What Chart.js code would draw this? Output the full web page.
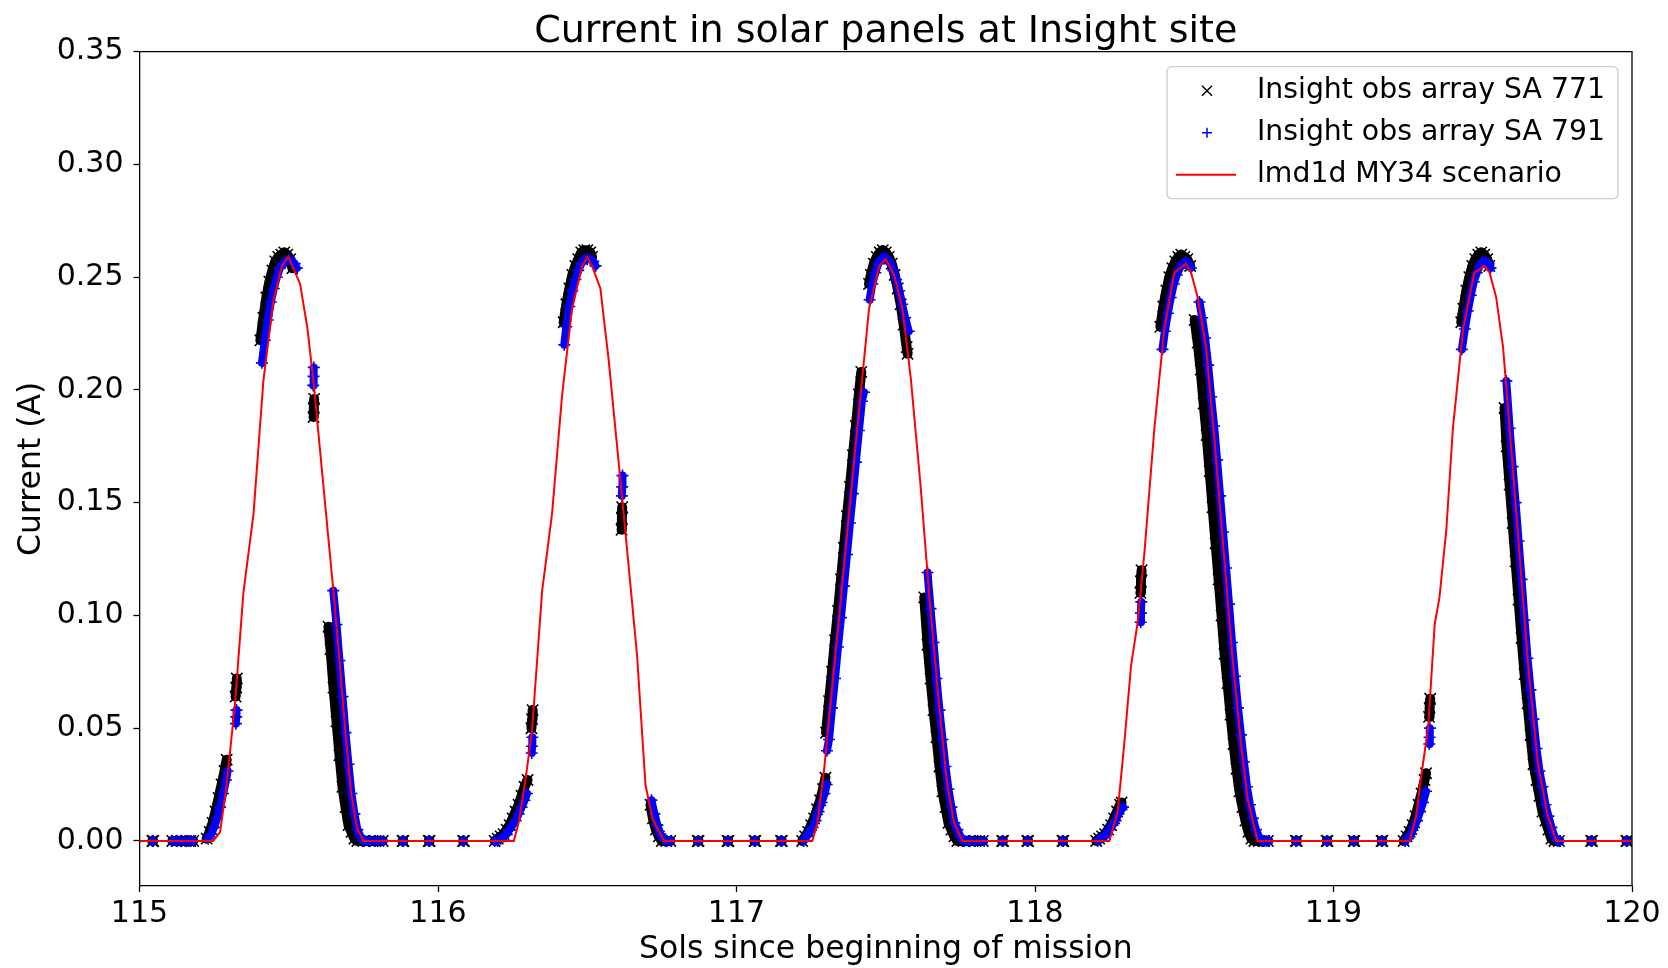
<!DOCTYPE html>
<html>
<head>
<meta charset="utf-8">
<title>Current in solar panels at Insight site</title>
<script src="https://cdn.jsdelivr.net/npm/chart.js@4.4.1/dist/chart.umd.min.js"></script>
<style>
  html, body { margin: 0; padding: 0; background: #fff; }
  #wrap { width: 1668px; height: 968px; }
</style>
</head>
<body>
<div id="wrap"><canvas id="chart" width="1668" height="968"></canvas></div>
<script>
// axis ticks
const solTicks = [115, 116, 117, 118, 119, 120];
const currentTicks = [0.00, 0.05, 0.10, 0.15, 0.20, 0.25, 0.30, 0.35];

// lmd1d MY34 model, [sol, current A]
const modelSol115 = [[115.000, 0], [115.247, 0], [115.270, 0.004], [115.292, 0.025], [115.320, 0.061], [115.348, 0.110], [115.382, 0.145], [115.415, 0.204], [115.449, 0.240], [115.477, 0.255], [115.499, 0.259], [115.538, 0.247], [115.563, 0.227], [115.585, 0.201], [115.605, 0.173], [115.625, 0.145], [115.648, 0.113], [115.667, 0.085], [115.686, 0.054], [115.708, 0.022], [115.728, 0.006], [115.750, 0]];
const modelSol116 = [[116.254, 0], [116.270, 0.008], [116.293, 0.027], [116.315, 0.049], [116.349, 0.111], [116.382, 0.145], [116.416, 0.198], [116.449, 0.236], [116.483, 0.255], [116.500, 0.259], [116.516, 0.255], [116.544, 0.245], [116.572, 0.213], [116.600, 0.175], [116.622, 0.145], [116.645, 0.113], [116.667, 0.082], [116.695, 0.025], [116.718, 0.010], [116.757, 0]];
const modelSol117 = [[117.254, 0], [117.271, 0.008], [117.293, 0.031], [117.316, 0.062], [117.343, 0.098], [117.377, 0.145], [117.410, 0.190], [117.444, 0.236], [117.478, 0.255], [117.500, 0.258], [117.528, 0.251], [117.556, 0.236], [117.584, 0.205], [117.617, 0.157], [117.645, 0.110], [117.678, 0.061], [117.706, 0.025], [117.729, 0.008], [117.757, 0]];
const modelSol118 = [[118.249, 0], [118.277, 0.013], [118.299, 0.043], [118.322, 0.078], [118.344, 0.097], [118.366, 0.127], [118.400, 0.183], [118.433, 0.227], [118.467, 0.252], [118.506, 0.256], [118.523, 0.252], [118.545, 0.241], [118.573, 0.219], [118.600, 0.180], [118.633, 0.127], [118.661, 0.082], [118.690, 0.043], [118.713, 0.018], [118.746, 0]];
const modelSol119 = [[119.255, 0], [119.277, 0.011], [119.294, 0.029], [119.317, 0.050], [119.339, 0.096], [119.355, 0.108], [119.378, 0.138], [119.400, 0.183], [119.434, 0.227], [119.472, 0.252], [119.506, 0.255], [119.523, 0.252], [119.545, 0.241], [119.568, 0.219], [119.590, 0.183], [119.618, 0.136], [119.652, 0.078], [119.685, 0.034], [119.718, 0.011], [119.746, 0], [120.000, 0]];

// Insight observations, array SA 771, one list per run of samples
const sa771Sol115 = [
  [[115.043, 0], [115.046, 0]],
  [[115.110, 0], [115.125, 0], [115.140, 0], [115.155, 0], [115.170, 0], [115.180, 0]],
  [[115.225, 0.001], [115.235, 0.004], [115.245, 0.008], [115.255, 0.013], [115.265, 0.019], [115.275, 0.025], [115.285, 0.031], [115.292, 0.036]],
  [[115.322, 0.064], [115.324, 0.068], [115.326, 0.072]],
  [[115.405, 0.222], [115.415, 0.232], [115.425, 0.241], [115.435, 0.248], [115.445, 0.253], [115.455, 0.257], [115.465, 0.259], [115.475, 0.260], [115.485, 0.261], [115.495, 0.260], [115.505, 0.258], [115.512, 0.254]],
  [[115.583, 0.188], [115.584, 0.192], [115.585, 0.196]],
  [[115.633, 0.095], [115.640, 0.085], [115.650, 0.068], [115.660, 0.053], [115.670, 0.038], [115.680, 0.024], [115.690, 0.015], [115.700, 0.007], [115.710, 0.004], [115.720, 0.001], [115.730, 0], [115.750, 0], [115.770, 0], [115.790, 0], [115.815, 0]],
  [[115.881, 0], [115.884, 0]], [[115.969, 0], [115.972, 0]], [[116.084, 0], [116.087, 0]]
];
const sa771Sol116 = [
  [[116.190, 0], [116.200, 0.001], [116.210, 0.002], [116.220, 0.003], [116.230, 0.005], [116.240, 0.007], [116.250, 0.010], [116.260, 0.013], [116.270, 0.016], [116.280, 0.020], [116.290, 0.024], [116.300, 0.027]],
  [[116.313, 0.050], [116.315, 0.054], [116.317, 0.058]],
  [[116.421, 0.230], [116.430, 0.238], [116.440, 0.245], [116.450, 0.251], [116.460, 0.255], [116.470, 0.258], [116.480, 0.261], [116.490, 0.262], [116.500, 0.262], [116.510, 0.261], [116.516, 0.259]],
  [[116.615, 0.138], [116.616, 0.143], [116.617, 0.148]],
  [[116.712, 0.016], [116.720, 0.010], [116.730, 0.005], [116.740, 0.002], [116.750, 0], [116.765, 0], [116.778, 0]],
  [[116.870, 0], [116.873, 0]], [[116.970, 0], [116.973, 0]], [[117.060, 0], [117.063, 0]], [[117.149, 0], [117.152, 0]]
];
const sa771Sol117 = [
  [[117.220, 0], [117.230, 0.002], [117.240, 0.004], [117.250, 0.007], [117.260, 0.010], [117.270, 0.014], [117.280, 0.018], [117.290, 0.023], [117.298, 0.028]],
  [[117.300, 0.048], [117.310, 0.062], [117.320, 0.075], [117.330, 0.089], [117.340, 0.102], [117.350, 0.116], [117.360, 0.130], [117.370, 0.144], [117.380, 0.157], [117.390, 0.171], [117.400, 0.184], [117.410, 0.198], [117.418, 0.208]],
  [[117.444, 0.247], [117.450, 0.251], [117.460, 0.256], [117.470, 0.259], [117.480, 0.261], [117.490, 0.262], [117.500, 0.261], [117.510, 0.259], [117.520, 0.256], [117.530, 0.251], [117.540, 0.245], [117.550, 0.238], [117.560, 0.229], [117.570, 0.219], [117.573, 0.216]],
  [[117.629, 0.108], [117.640, 0.087], [117.650, 0.072], [117.660, 0.058], [117.670, 0.046], [117.680, 0.033], [117.690, 0.022], [117.700, 0.015], [117.710, 0.008], [117.720, 0.005], [117.730, 0.002], [117.740, 0], [117.760, 0], [117.780, 0], [117.800, 0], [117.825, 0]],
  [[117.890, 0], [117.893, 0]], [[117.974, 0], [117.977, 0]], [[118.092, 0], [118.095, 0]]
];
const sa771Sol118 = [
  [[118.205, 0], [118.215, 0.001], [118.225, 0.002], [118.235, 0.003], [118.245, 0.005], [118.255, 0.007], [118.265, 0.010], [118.275, 0.013], [118.285, 0.016], [118.290, 0.017]],
  [[118.353, 0.110], [118.355, 0.115], [118.357, 0.120]],
  [[118.420, 0.228], [118.430, 0.237], [118.440, 0.244], [118.450, 0.250], [118.460, 0.254], [118.470, 0.257], [118.480, 0.259], [118.490, 0.260], [118.500, 0.259], [118.510, 0.258], [118.520, 0.255]],
  [[118.535, 0.231], [118.545, 0.221], [118.555, 0.209], [118.565, 0.194], [118.575, 0.180], [118.585, 0.164], [118.595, 0.148], [118.605, 0.132], [118.615, 0.116], [118.625, 0.100], [118.635, 0.083], [118.645, 0.070], [118.655, 0.056], [118.665, 0.043], [118.675, 0.032], [118.685, 0.022], [118.695, 0.015], [118.705, 0.009], [118.715, 0.004], [118.725, 0.001], [118.735, 0], [118.750, 0], [118.765, 0], [118.780, 0]],
  [[118.874, 0], [118.877, 0]], [[118.977, 0], [118.980, 0]], [[119.067, 0], [119.070, 0]], [[119.161, 0], [119.164, 0]]
];
const sa771Sol119 = [
  [[119.235, 0], [119.245, 0.002], [119.255, 0.004], [119.265, 0.007], [119.275, 0.011], [119.285, 0.016], [119.295, 0.021], [119.305, 0.027], [119.310, 0.030]],
  [[119.320, 0.055], [119.322, 0.059], [119.324, 0.063]],
  [[119.428, 0.230], [119.435, 0.236], [119.445, 0.244], [119.455, 0.250], [119.465, 0.255], [119.475, 0.258], [119.485, 0.260], [119.495, 0.261], [119.505, 0.260], [119.515, 0.258], [119.522, 0.255]],
  [[119.573, 0.192], [119.580, 0.175], [119.590, 0.158], [119.600, 0.141], [119.610, 0.124], [119.620, 0.107], [119.630, 0.090], [119.640, 0.074], [119.650, 0.061], [119.660, 0.047], [119.670, 0.034], [119.680, 0.027], [119.690, 0.020], [119.700, 0.013], [119.710, 0.009], [119.720, 0.005], [119.730, 0.001], [119.740, 0], [119.755, 0]],
  [[119.863, 0], [119.866, 0]], [[119.981, 0], [119.984, 0]]
];

// Insight observations, array SA 791
const sa791Sol115 = [
  [[115.043, 0], [115.046, 0]],
  [[115.110, 0], [115.125, 0], [115.140, 0], [115.155, 0], [115.170, 0], [115.182, 0]],
  [[115.230, 0.001], [115.240, 0.003], [115.250, 0.006], [115.260, 0.010], [115.270, 0.015], [115.280, 0.021], [115.290, 0.027], [115.295, 0.031]],
  [[115.323, 0.052], [115.324, 0.055], [115.325, 0.058]],
  [[115.410, 0.212], [115.420, 0.222], [115.430, 0.231], [115.440, 0.239], [115.450, 0.245], [115.460, 0.250], [115.470, 0.254], [115.480, 0.256], [115.490, 0.257], [115.500, 0.258], [115.510, 0.257], [115.520, 0.256], [115.527, 0.254]],
  [[115.582, 0.202], [115.583, 0.206], [115.584, 0.210]],
  [[115.649, 0.111], [115.660, 0.096], [115.670, 0.080], [115.680, 0.064], [115.690, 0.048], [115.700, 0.034], [115.710, 0.021], [115.720, 0.012], [115.730, 0.005], [115.740, 0.002], [115.750, 0], [115.770, 0], [115.790, 0], [115.817, 0]],
  [[115.881, 0], [115.884, 0]], [[115.969, 0], [115.972, 0]], [[116.084, 0], [116.087, 0]]
];
const sa791Sol116 = [
  [[116.190, 0], [116.200, 0], [116.210, 0.001], [116.220, 0.002], [116.230, 0.003], [116.240, 0.005], [116.250, 0.007], [116.260, 0.009], [116.270, 0.012], [116.280, 0.015], [116.290, 0.018], [116.298, 0.021]],
  [[116.314, 0.039], [116.315, 0.042], [116.316, 0.046]],
  [[116.423, 0.220], [116.430, 0.228], [116.440, 0.237], [116.450, 0.244], [116.460, 0.249], [116.470, 0.253], [116.480, 0.256], [116.490, 0.258], [116.500, 0.258], [116.510, 0.258], [116.520, 0.257], [116.528, 0.255]],
  [[116.616, 0.153], [116.617, 0.157], [116.618, 0.162]],
  [[116.715, 0.018], [116.725, 0.012], [116.735, 0.007], [116.745, 0.003], [116.755, 0.001], [116.765, 0], [116.780, 0]],
  [[116.870, 0], [116.873, 0]], [[116.970, 0], [116.973, 0]], [[117.060, 0], [117.063, 0]], [[117.149, 0], [117.152, 0]]
];
const sa791Sol117 = [
  [[117.225, 0], [117.235, 0.002], [117.245, 0.004], [117.255, 0.006], [117.265, 0.009], [117.275, 0.013], [117.285, 0.017], [117.295, 0.021], [117.302, 0.025]],
  [[117.303, 0.040], [117.310, 0.045], [117.320, 0.059], [117.330, 0.072], [117.340, 0.086], [117.350, 0.099], [117.360, 0.113], [117.370, 0.127], [117.380, 0.141], [117.390, 0.154], [117.400, 0.168], [117.410, 0.182], [117.420, 0.195], [117.427, 0.199]],
  [[117.446, 0.240], [117.455, 0.247], [117.465, 0.252], [117.475, 0.256], [117.485, 0.258], [117.495, 0.259], [117.505, 0.258], [117.515, 0.256], [117.525, 0.253], [117.535, 0.249], [117.545, 0.244], [117.555, 0.238], [117.565, 0.232], [117.577, 0.226]],
  [[117.640, 0.119], [117.650, 0.103], [117.660, 0.088], [117.670, 0.072], [117.680, 0.058], [117.690, 0.045], [117.700, 0.033], [117.710, 0.023], [117.720, 0.015], [117.730, 0.008], [117.740, 0.005], [117.750, 0.002], [117.760, 0], [117.780, 0], [117.800, 0], [117.830, 0]],
  [[117.890, 0], [117.893, 0]], [[117.974, 0], [117.977, 0]], [[118.092, 0], [118.095, 0]]
];
const sa791Sol118 = [
  [[118.210, 0], [118.220, 0.001], [118.230, 0.002], [118.240, 0.003], [118.250, 0.005], [118.260, 0.007], [118.270, 0.009], [118.280, 0.012], [118.290, 0.014], [118.295, 0.015]],
  [[118.354, 0.097], [118.355, 0.101], [118.356, 0.106]],
  [[118.427, 0.218], [118.435, 0.226], [118.445, 0.234], [118.455, 0.241], [118.465, 0.247], [118.475, 0.251], [118.485, 0.254], [118.495, 0.256], [118.505, 0.257], [118.515, 0.256], [118.522, 0.254]],
  [[118.551, 0.239], [118.560, 0.232], [118.570, 0.223], [118.580, 0.211], [118.590, 0.197], [118.600, 0.184], [118.610, 0.169], [118.620, 0.153], [118.630, 0.137], [118.640, 0.121], [118.650, 0.105], [118.660, 0.088], [118.670, 0.073], [118.680, 0.059], [118.690, 0.047], [118.700, 0.035], [118.710, 0.024], [118.720, 0.016], [118.730, 0.010], [118.740, 0.005], [118.750, 0.002], [118.760, 0], [118.775, 0], [118.785, 0]],
  [[118.874, 0], [118.877, 0]], [[118.977, 0], [118.980, 0]], [[119.067, 0], [119.070, 0]], [[119.161, 0], [119.164, 0]]
];
const sa791Sol119 = [
  [[119.240, 0], [119.250, 0.001], [119.260, 0.003], [119.270, 0.006], [119.280, 0.009], [119.290, 0.013], [119.300, 0.017], [119.310, 0.022]],
  [[119.321, 0.043], [119.322, 0.046], [119.323, 0.050]],
  [[119.430, 0.218], [119.440, 0.227], [119.450, 0.235], [119.460, 0.242], [119.470, 0.248], [119.480, 0.252], [119.490, 0.255], [119.500, 0.257], [119.510, 0.257], [119.520, 0.256], [119.526, 0.254]],
  [[119.579, 0.204], [119.590, 0.183], [119.600, 0.166], [119.610, 0.150], [119.620, 0.133], [119.630, 0.116], [119.640, 0.098], [119.650, 0.081], [119.660, 0.067], [119.670, 0.054], [119.680, 0.041], [119.690, 0.031], [119.700, 0.024], [119.710, 0.016], [119.720, 0.011], [119.730, 0.006], [119.740, 0.002], [119.750, 0], [119.760, 0]],
  [[119.863, 0], [119.866, 0]], [[119.981, 0], [119.984, 0]]
];

const FONT = 'DejaVu Sans';

// runs of samples are joined, a null between runs breaks the band
function toPoints(days) {
  const out = [];
  days.forEach(runs => {
    runs.forEach(run => {
      if (out.length) out.push({ x: run[0][0], y: null });
      run.forEach(p => out.push({ x: p[0], y: p[1] }));
    });
  });
  return out;
}

const sa771Points = toPoints([sa771Sol115, sa771Sol116, sa771Sol117, sa771Sol118, sa771Sol119]);
const sa791Points = toPoints([sa791Sol115, sa791Sol116, sa791Sol117, sa791Sol118, sa791Sol119]);
const modelPoints = [].concat(modelSol115, modelSol116, modelSol117, modelSol118, modelSol119)
  .map(p => ({ x: p[0], y: p[1] }));

// top + right spines and the framed legend, drawn like matplotlib does
const frameAndLegend = {
  id: 'frameAndLegend',
  afterDraw(chart) {
    const { ctx, chartArea } = chart;
    ctx.save();
    ctx.strokeStyle = '#000';
    ctx.lineWidth = 1.3;
    ctx.beginPath();
    ctx.moveTo(chartArea.left, chartArea.top);
    ctx.lineTo(chartArea.right, chartArea.top);
    ctx.lineTo(chartArea.right, chartArea.bottom);
    ctx.stroke();

    const w = 451, h = 132;
    const left = chartArea.right - 14 - w;
    const top = chartArea.top + 15;
    ctx.beginPath();
    ctx.roundRect(left, top, w, h, 5);
    ctx.fillStyle = 'rgba(255,255,255,0.8)';
    ctx.fill();
    ctx.strokeStyle = '#cccccc';
    ctx.lineWidth = 1.3;
    ctx.stroke();

    const rows = [top + 24, top + 66, top + 108];
    const mx = left + 40;
    ctx.lineWidth = 1.5;
    // x marker
    ctx.strokeStyle = '#000';
    ctx.beginPath();
    ctx.moveTo(mx - 5, rows[0] - 5); ctx.lineTo(mx + 5, rows[0] + 5);
    ctx.moveTo(mx + 5, rows[0] - 5); ctx.lineTo(mx - 5, rows[0] + 5);
    ctx.stroke();
    // + marker
    ctx.strokeStyle = '#0000ff';
    ctx.beginPath();
    ctx.moveTo(mx - 5, rows[1]); ctx.lineTo(mx + 5, rows[1]);
    ctx.moveTo(mx, rows[1] - 5); ctx.lineTo(mx, rows[1] + 5);
    ctx.stroke();
    // line sample
    ctx.strokeStyle = '#ff0000';
    ctx.lineWidth = 2;
    ctx.beginPath();
    ctx.moveTo(left + 9, rows[2]); ctx.lineTo(left + 69, rows[2]);
    ctx.stroke();

    ctx.fillStyle = '#000';
    ctx.font = '28.3px "' + FONT + '"';
    ctx.textBaseline = 'middle';
    ctx.textAlign = 'left';
    chart.data.datasets.forEach((ds, i) => {
      ctx.fillText(ds.label, left + 90, rows[i]);
    });
    ctx.restore();
  }
};

const ctx = document.getElementById('chart').getContext('2d');
new Chart(ctx, {
  type: 'scatter',
  data: {
    datasets: [
      {
        label: 'Insight obs array SA 771',
        data: sa771Points,
        showLine: true,
        spanGaps: false,
        borderColor: '#000000',
        borderWidth: 10,
        borderJoinStyle: 'round',
        borderCapStyle: 'round',
        pointStyle: 'crossRot',
        pointRadius: 8,
        pointBorderWidth: 1.6,
        pointBorderColor: '#000000',
        pointBackgroundColor: '#000000',
        order: 3
      },
      {
        label: 'Insight obs array SA 791',
        data: sa791Points,
        showLine: true,
        spanGaps: false,
        borderColor: '#0000ff',
        borderWidth: 8,
        borderJoinStyle: 'round',
        borderCapStyle: 'round',
        pointStyle: 'cross',
        pointRadius: 6,
        pointBorderWidth: 1.6,
        pointBorderColor: '#0000ff',
        pointBackgroundColor: '#0000ff',
        order: 2
      },
      {
        label: 'lmd1d MY34 scenario',
        data: modelPoints,
        showLine: true,
        borderColor: '#ff0000',
        borderWidth: 2,
        pointRadius: 0,
        tension: 0,
        order: 1
      }
    ]
  },
  options: {
    responsive: false,
    animation: false,
    devicePixelRatio: 1,
    layout: { padding: { top: 0, right: 36, bottom: 0, left: 0 } },
    plugins: {
      legend: { display: false },
      tooltip: { enabled: false },
      title: {
        display: true,
        fullSize: false,
        text: 'Current in solar panels at Insight site',
        color: '#000',
        font: { family: FONT, size: 38, weight: 'normal', lineHeight: 1 },
        padding: { top: 13.5, bottom: 0.2 }
      }
    },
    scales: {
      x: {
        type: 'linear',
        min: 115,
        max: 120,
        afterBuildTicks: scale => { scale.ticks = solTicks.map(v => ({ value: v })); },
        afterFit: scale => { scale.height = 82; scale.paddingLeft = 0; scale.paddingRight = 0; },
        ticks: {
          color: '#000',
          font: { family: FONT, size: 30 },
          padding: 4,
          maxRotation: 0,
          callback: v => String(v)
        },
        grid: { drawOnChartArea: false, drawTicks: true, tickLength: 6, tickColor: '#000', tickWidth: 1.3 },
        border: { display: true, color: '#000', width: 1.3 },
        title: {
          display: true,
          text: 'Sols since beginning of mission',
          color: '#000',
          font: { family: FONT, size: 31.5, lineHeight: 1 },
          padding: { top: 0, bottom: 2 }
        }
      },
      y: {
        type: 'linear',
        min: -0.02,
        max: 0.35,
        afterBuildTicks: scale => { scale.ticks = currentTicks.map(v => ({ value: v })); },
        afterFit: scale => { scale.width = 139.5; },
        ticks: {
          color: '#000',
          font: { family: FONT, size: 30 },
          padding: 10,
          callback: v => v.toFixed(2)
        },
        grid: { drawOnChartArea: false, drawTicks: true, tickLength: 6, tickColor: '#000', tickWidth: 1.3 },
        border: { display: true, color: '#000', width: 1.3 },
        title: {
          display: true,
          text: 'Current (A)',
          color: '#000',
          font: { family: FONT, size: 31.5, lineHeight: 1 },
          padding: { top: 16, bottom: 0 }
        }
      }
    }
  },
  plugins: [frameAndLegend]
});
</script>
</body>
</html>
